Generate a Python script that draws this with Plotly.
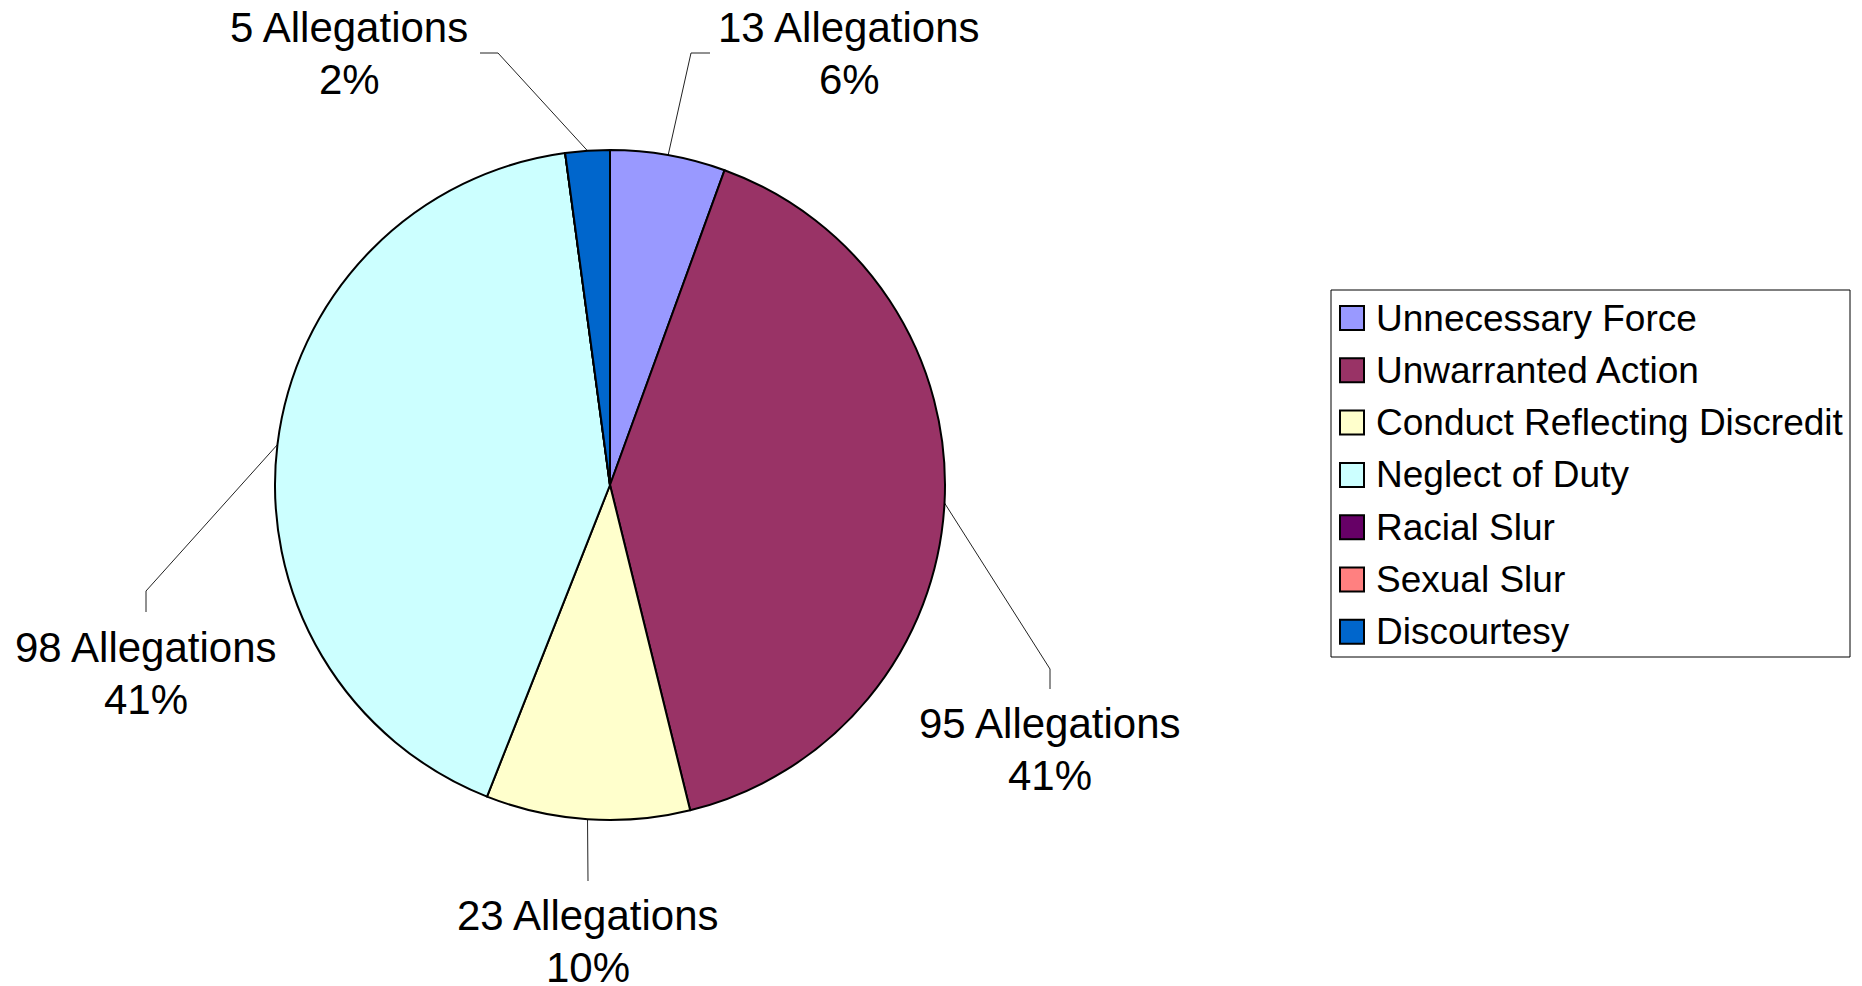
import math
import plotly.graph_objects as go

# ---------------- data ----------------
CATEGORIES = ["Unnecessary Force", "Unwarranted Action", "Conduct Reflecting Discredit",
              "Neglect of Duty", "Racial Slur", "Sexual Slur", "Discourtesy"]
ALLEGATIONS = [13, 95, 23, 98, 0, 0, 5]
PERCENT_LABELS = ["6%", "41%", "10%", "41%", "0%", "0%", "2%"]
COLORS = ["#9999FF", "#993366", "#FFFFCC", "#CCFFFF", "#660066", "#FF8080", "#0066CC"]

# ---------------- layout (pixels) ----------------
W, H = 1862, 986
CX, CY, R = 610, 485, 335
FONT = "Liberation Sans, Arial, sans-serif"
LINE_GAP = 26  # half distance between the two label lines

# text centre and leader-line points (after the slice edge point) for each labelled slice
LABEL_LAYOUT = {
    0: dict(text=(849, 53), path=[(691, 53), (710, 53)]),
    1: dict(text=(1050, 749), path=[(1050, 669), (1050, 689)]),
    2: dict(text=(588, 941), path=[(588, 881)]),
    3: dict(text=(146, 673), path=[(146, 591), (146, 612)]),
    6: dict(text=(349, 53), path=[(498, 53), (480, 53)]),
}
LEGEND_BOX = (1331, 290, 1850, 657)
LEGEND_ROW0, LEGEND_STEP = 318, 52.3
LEGEND_SWATCH_X, LEGEND_TEXT_X = 1352, 1374

fig = go.Figure()

fig.add_trace(go.Pie(
    labels=CATEGORIES, values=ALLEGATIONS, sort=False, direction="clockwise", rotation=0,
    marker=dict(colors=COLORS, line=dict(color="black", width=2)),
    textinfo="none", hoverinfo="label+value+percent", showlegend=False,
    domain=dict(x=[(CX - R) / W, (CX + R) / W], y=[(H - CY - R) / H, (H - CY + R) / H]),
))

# leader lines from slice mid-angle edge points
total = sum(ALLEGATIONS)
cum = 0
annotations = []
for i, v in enumerate(ALLEGATIONS):
    if i in LABEL_LAYOUT and v > 0:
        theta = 2 * math.pi * (cum + v / 2) / total
        ex = CX + R * math.sin(theta)
        ey = CY - R * math.cos(theta)
        pts = [(ex, ey)] + LABEL_LAYOUT[i]["path"]
        fig.add_trace(go.Scatter(
            x=[p[0] for p in pts], y=[p[1] for p in pts], mode="lines",
            line=dict(color="#222222", width=1), hoverinfo="skip", showlegend=False))
        tx, ty = LABEL_LAYOUT[i]["text"]
        for txt, yy in ((f"{v} Allegations", ty - LINE_GAP), (PERCENT_LABELS[i], ty + LINE_GAP)):
            annotations.append(dict(
                x=tx, y=yy, xref="x", yref="y", showarrow=False, xanchor="center", yanchor="middle",
                text=txt, font=dict(family=FONT, size=42, color="black")))
    cum += v

# legend
ys = [LEGEND_ROW0 + k * LEGEND_STEP for k in range(len(CATEGORIES))]
fig.add_trace(go.Scatter(
    x=[LEGEND_SWATCH_X] * len(CATEGORIES), y=ys, mode="markers",
    marker=dict(symbol="square", size=24, color=COLORS, line=dict(color="black", width=2)),
    hoverinfo="skip", showlegend=False))
for name, y in zip(CATEGORIES, ys):
    annotations.append(dict(
        x=LEGEND_TEXT_X, y=y, xref="x", yref="y", showarrow=False, xanchor="left", yanchor="middle",
        text=name, font=dict(family=FONT, size=37, color="black")))

x0, y0, x1, y1 = LEGEND_BOX
fig.add_shape(type="rect", xref="x", yref="y", x0=x0, y0=y0, x1=x1, y1=y1,
              line=dict(color="black", width=1), fillcolor="rgba(0,0,0,0)", layer="below")

fig.update_layout(
    width=W, height=H, margin=dict(l=0, r=0, t=0, b=0),
    paper_bgcolor="white", plot_bgcolor="white",
    xaxis=dict(range=[0, W], visible=False, fixedrange=True),
    yaxis=dict(range=[H, 0], visible=False, fixedrange=True),
    annotations=annotations, showlegend=False,
)

fig.write_html("out.html", config={"displayModeBar": False},
               post_script="document.body.style.margin='0';document.body.style.overflow='hidden';")
